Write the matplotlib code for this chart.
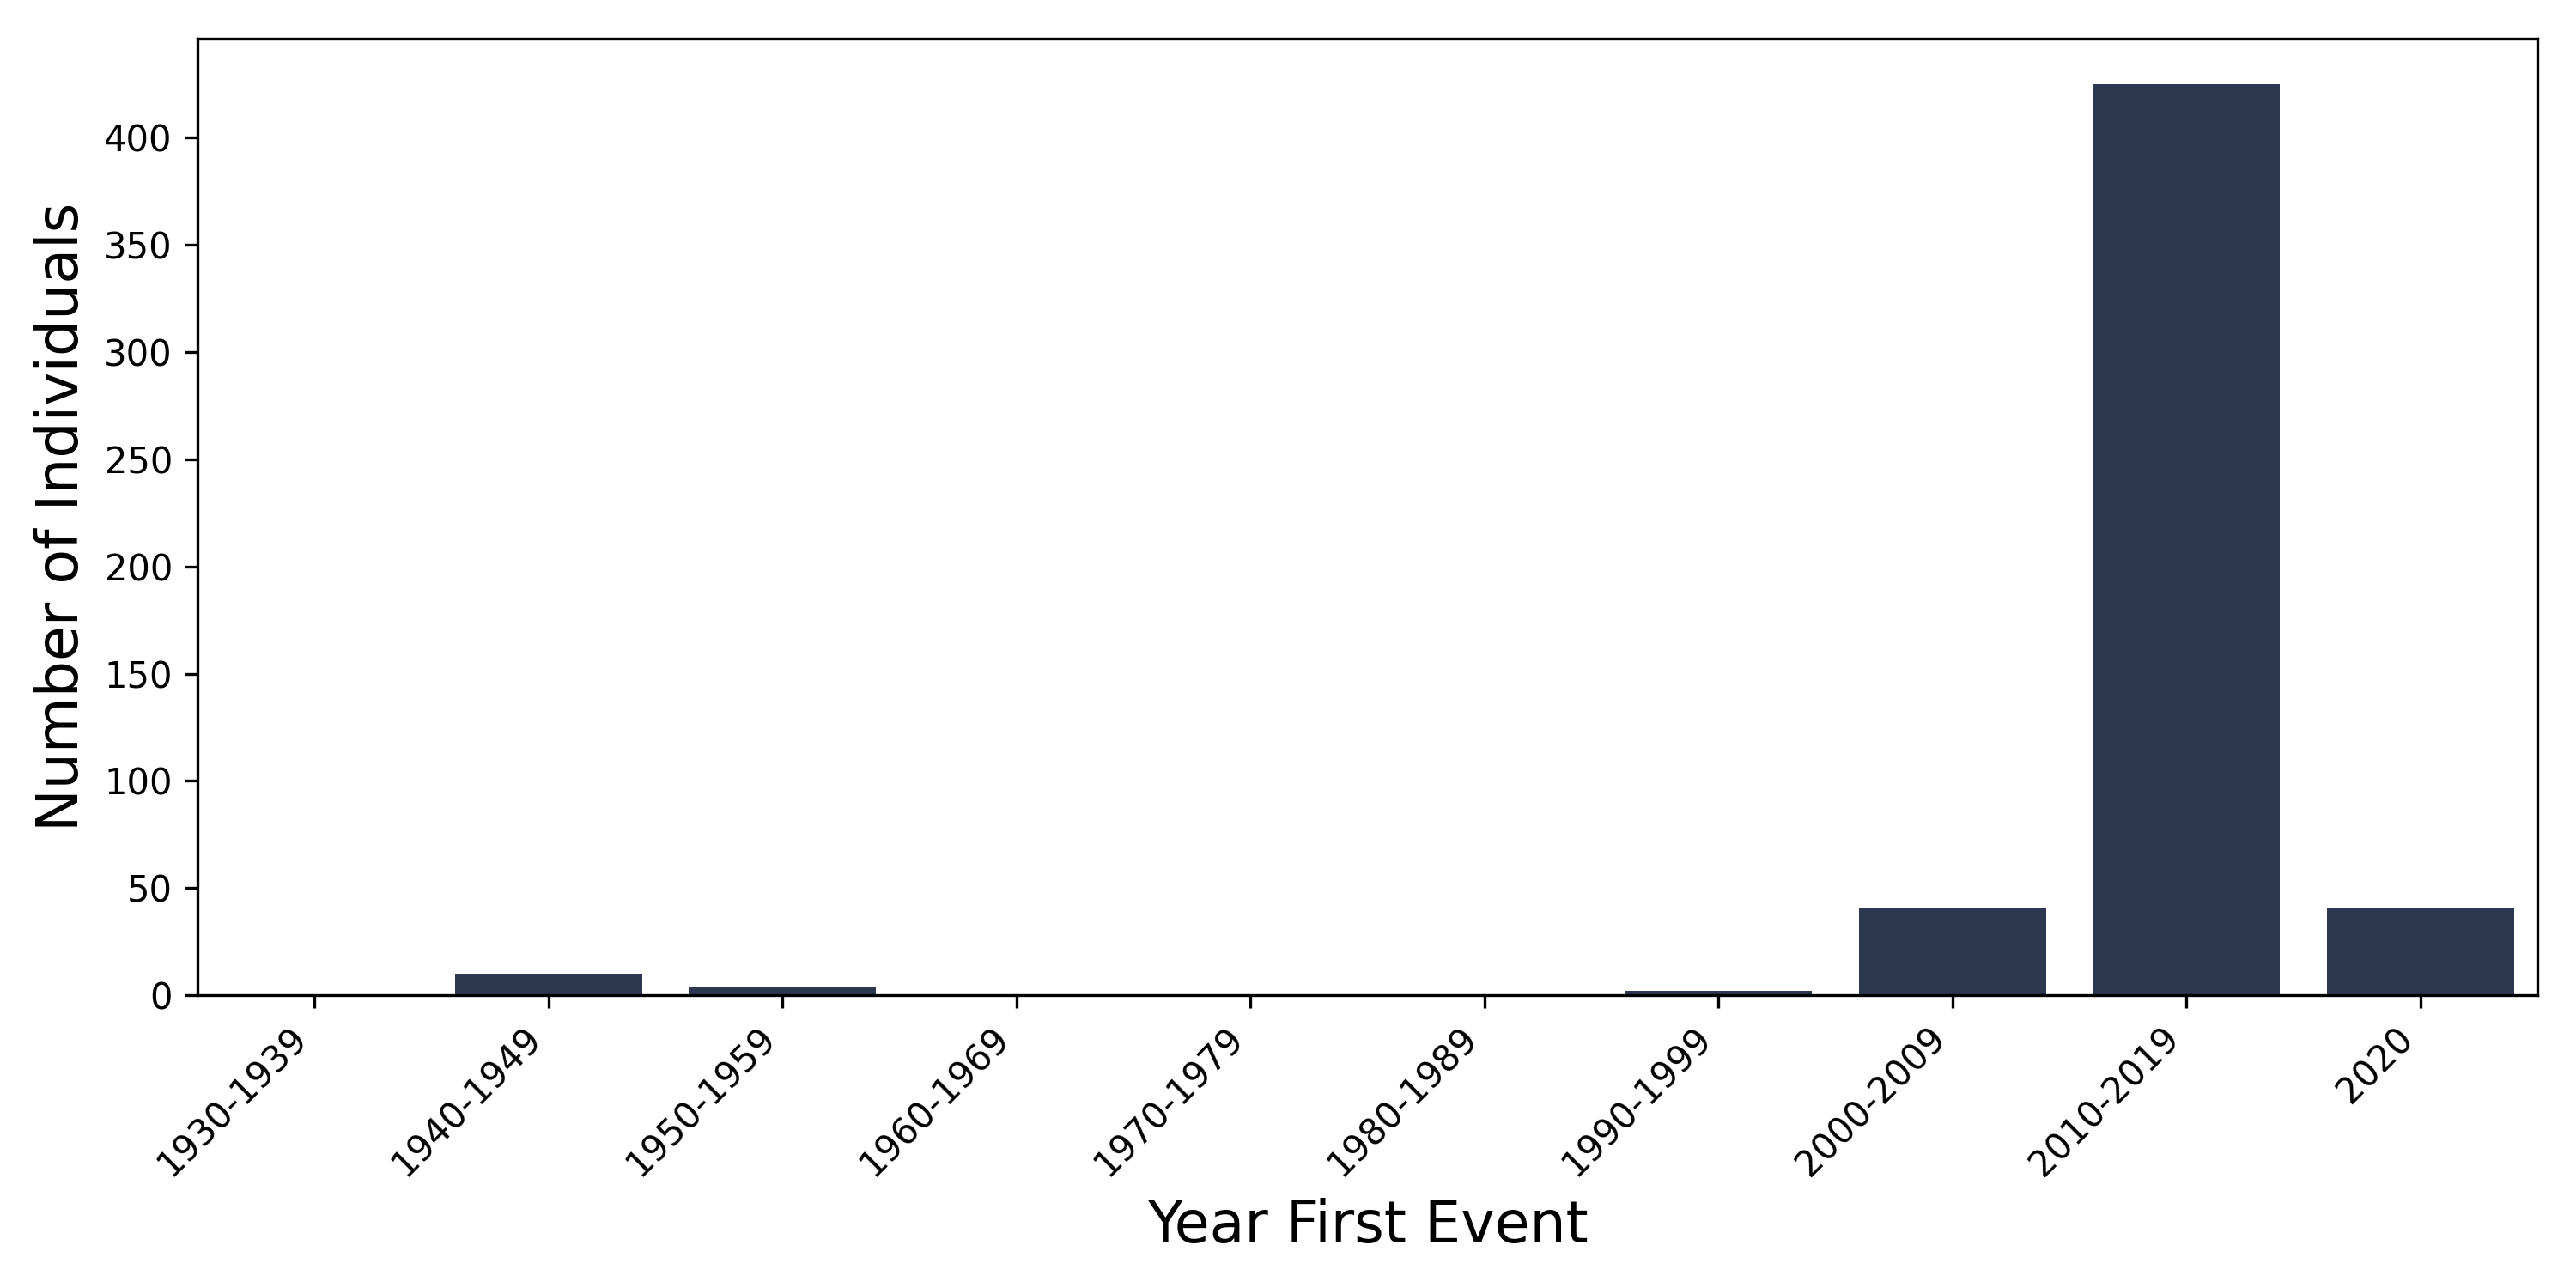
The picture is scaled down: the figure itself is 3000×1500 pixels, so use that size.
import matplotlib
matplotlib.use("Agg")
import matplotlib.pyplot as plt

categories = ["1930-1939", "1940-1949", "1950-1959", "1960-1969", "1970-1979",
              "1980-1989", "1990-1999", "2000-2009", "2010-2019", "2020"]
counts = [0, 10, 4, 0, 0, 0, 2, 41, 425, 41]

fig = plt.figure(figsize=(10, 5), dpi=300)
ax = fig.add_axes([0.0767, 0.2273, 0.9083, 0.7427])
x = list(range(len(categories)))
ax.bar(x, counts, width=0.8, color="#2d3850")
ax.set_xlim(-0.5, len(categories) - 0.5)
ax.set_xticks(x)
ax.set_xticklabels(categories, rotation=45, ha="right", fontsize=10)
ax.tick_params(axis="y", labelsize=10)
ax.set_xlabel("Year First Event", fontsize=16)
ax.set_ylabel("Number of Individuals", fontsize=16)
fig.savefig("out.png", dpi=300)
